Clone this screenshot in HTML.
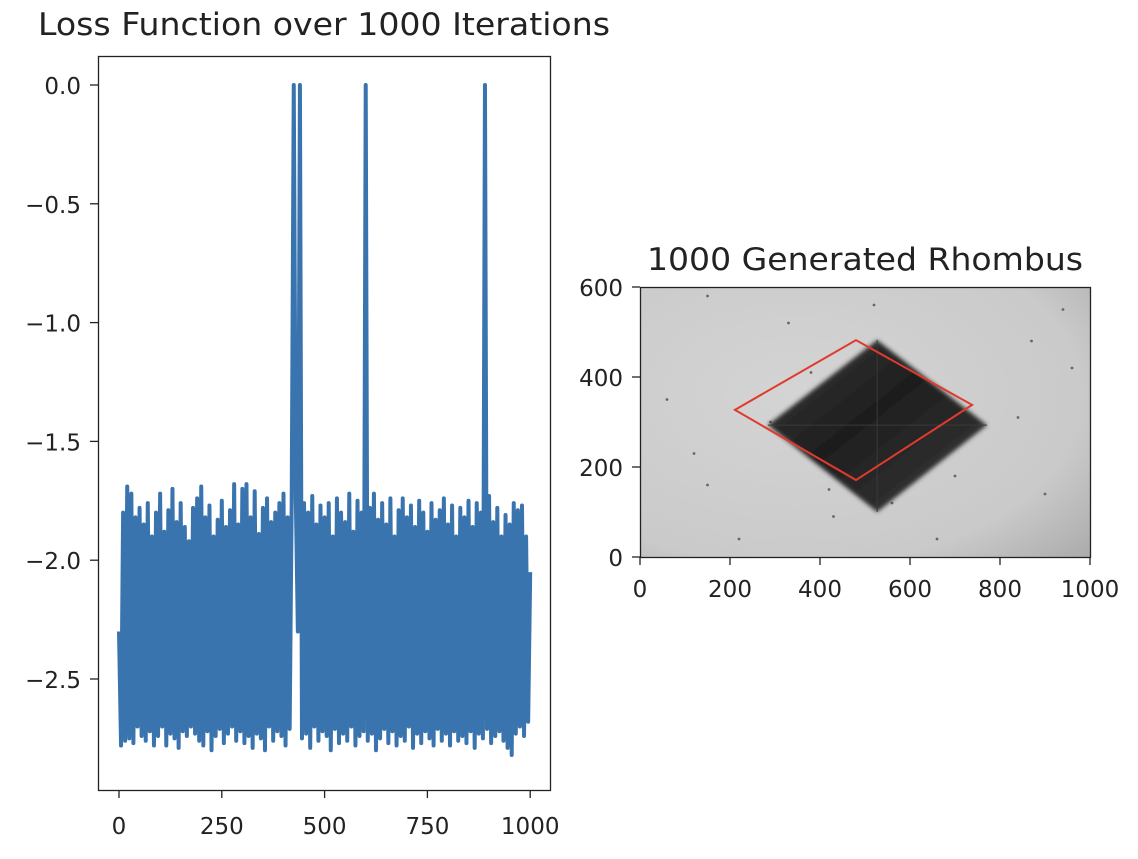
<!DOCTYPE html>
<html><head><meta charset="utf-8">
<style>
html,body{margin:0;padding:0;background:#fff;}
svg text{font-family:"DejaVu Sans","Liberation Sans",sans-serif;fill:#222;}
</style></head>
<body>
<svg id="fig" width="1138" height="854" viewBox="0 0 1138 854" xmlns="http://www.w3.org/2000/svg">
<defs>
<radialGradient id="bg" cx="0.35" cy="0.4" r="0.9">
<stop offset="0" stop-color="#d4d4d4"/><stop offset="0.7" stop-color="#cacaca"/><stop offset="1" stop-color="#a9a9a9"/>
</radialGradient>
<linearGradient id="dk" x1="0" y1="0" x2="1" y2="1">
<stop offset="0" stop-color="#3a3a3a"/><stop offset="0.45" stop-color="#1e1e1e"/><stop offset="1" stop-color="#3c3c3c"/>
</linearGradient>
<filter id="blur"><feGaussianBlur stdDeviation="2"/></filter>
</defs>
<g id="left"></g>
<g id="right"></g>
</svg>
<script>
const iterations = [];
for (let i = 0; i <= 200; i++) iterations.push(i * 5);
const lossValues = [
-2.3,-2.78,-1.8,-2.76,-1.69,-2.75,-1.72,-2.77,-1.82,-2.7,
-1.78,-2.74,-1.85,-2.76,-1.76,-2.72,-1.9,-2.78,-1.8,-2.74,
-1.72,-2.7,-1.88,-2.78,-1.79,-2.73,-1.7,-2.75,-1.84,-2.79,
-1.76,-2.72,-1.86,-2.74,-1.92,-2.7,-1.78,-2.73,-1.74,-2.76,
-1.69,-2.78,-1.82,-2.72,-1.77,-2.8,-1.9,-2.74,-1.83,-2.71,
-1.75,-2.77,-1.86,-2.73,-1.79,-2.7,-1.68,-2.76,-1.85,-2.72,
-1.7,-2.77,-1.68,-2.74,-1.82,-2.79,-1.71,-2.73,-1.89,-2.75,
-1.78,-2.8,-1.74,-2.7,-1.84,-2.76,-1.8,-2.72,-1.76,-2.74,
-1.72,-2.78,-1.82,-2.71,-1.75,0,-1.74,-2.3,0,-2.75,
-1.76,-2.73,-1.8,-2.79,-1.73,-2.7,-1.85,-2.76,-1.77,-2.72,
-1.82,-2.74,-1.76,-2.8,-1.9,-2.71,-1.74,-2.77,-1.8,-2.73,
-1.84,-2.76,-1.72,-2.7,-1.88,-2.78,-1.75,-2.74,-1.8,-2.72,
0,-2.76,-1.78,-2.73,-1.72,-2.8,-1.83,-2.75,-1.76,-2.71,
-1.85,-2.77,-1.74,-2.72,-1.9,-2.78,-1.79,-2.74,-1.74,-2.76,
-1.82,-2.7,-1.77,-2.79,-1.86,-2.73,-1.75,-2.77,-1.8,-2.72,
-1.88,-2.75,-1.76,-2.78,-1.83,-2.71,-1.79,-2.76,-1.74,-2.73,
-1.85,-2.78,-1.77,-2.72,-1.9,-2.76,-1.78,-2.74,-1.82,-2.77,
-1.75,-2.72,-1.86,-2.79,-1.76,-2.73,-1.8,-2.75,0,-2.71,
-1.73,-2.77,-1.84,-2.74,-1.78,-2.72,-1.9,-2.76,-1.81,-2.79,
-1.85,-2.82,-1.76,-2.73,-1.79,-2.7,-1.77,-2.74,-1.9,-2.68,
-2.05];
const lossXTicks = [0, 250, 500, 750, 1000];
const lossYTicks = [0.0, -0.5, -1.0, -1.5, -2.0, -2.5];
const lossYTickLabels = ["0.0", "\u22120.5", "\u22121.0", "\u22121.5", "\u22122.0", "\u22122.5"];
const imgXTicks = [0, 200, 400, 600, 800, 1000];
const imgYTicks = [0, 200, 400, 600];
const redRhombusX = [211, 480, 738, 480];
const redRhombusY = [327, 482, 338, 171];
const darkRhombusX = [284, 527, 771, 527];
const darkRhombusY = [293, 482, 293, 100];

const NS = "http://www.w3.org/2000/svg";
function mk(tag, attrs, parent) {
  const e = document.createElementNS(NS, tag);
  for (const k in attrs) e.setAttribute(k, attrs[k]);
  parent.appendChild(e);
  return e;
}
// Left chart
const L = document.getElementById('left');
const lx = v => 119 + v * 0.4112;
const ly = v => 85 - v * 237.6;
const lt = mk('text', {x: 324, y: 35, 'font-size': 31, 'text-anchor': 'middle', textLength: 572, lengthAdjust: 'spacingAndGlyphs'}, L);
lt.textContent = 'Loss Function over 1000 Iterations';


let d = '';
iterations.forEach((it, i) => { d += (i ? 'L' : 'M') + lx(it).toFixed(2) + ' ' + ly(lossValues[i]).toFixed(2); });
const line = mk('path', {d: d, fill: 'none', stroke: '#3a74ae', 'stroke-width': 4, 'stroke-linejoin': 'round'}, L);


const lf = mk('rect', {x: 98.5, y: 56.5, width: 452, height: 734, fill: 'none', stroke: '#222', 'stroke-width': 1.3}, L);


lossXTicks.forEach(v => {
  const x = lx(v);
  mk('line', {x1: x, x2: x, y1: 790, y2: 798, stroke: '#222', 'stroke-width': 1.3}, L);
  const t = mk('text', {x: x, y: 834, 'font-size': 23, 'text-anchor': 'middle'}, L);
  t.textContent = String(v);
  
  
});
lossYTicks.forEach((v, i) => {
  const y = ly(v);
  mk('line', {x1: 90, x2: 98, y1: y, y2: y, stroke: '#222', 'stroke-width': 1.3}, L);
  const t = mk('text', {x: 81, y: y + 9, 'font-size': 23, 'text-anchor': 'end'}, L);
  t.textContent = lossYTickLabels[i];
  
  
});
// Right chart
const R = document.getElementById('right');
const rx = v => 640 + v * 0.45;
const ry = v => 557 - v * 0.45;
const rt = mk('text', {x: 865, y: 270, 'font-size': 31, 'text-anchor': 'middle', textLength: 436, lengthAdjust: 'spacingAndGlyphs'}, R);
rt.textContent = '1000 Generated Rhombus';


const bg = mk('rect', {x: 640, y: 287, width: 450, height: 270, fill: 'url(#bg)'}, R);


const specks = [[150,580],[330,520],[520,560],[60,350],[120,230],[150,160],[290,300],[420,150],[430,90],[560,120],[620,260],[700,180],[840,310],[900,140],[870,480],[940,550],[380,410],[220,40],[660,40],[960,420]];
specks.forEach(p => mk('circle', {cx: rx(p[0]), cy: ry(p[1]), r: 1.4, fill: '#666'}, R));
const dark = mk('polygon', {points: darkRhombusX.map((x, i) => rx(x) + ',' + ry(darkRhombusY[i])).join(' '), fill: 'url(#dk)', filter: 'url(#blur)'}, R);


mk('line', {x1: rx(darkRhombusX[0]), y1: ry(darkRhombusY[0]), x2: rx(darkRhombusX[2]), y2: ry(darkRhombusY[2]), stroke: '#3a3a3a', 'stroke-width': 1}, R);
mk('line', {x1: rx(darkRhombusX[1]), y1: ry(darkRhombusY[1]), x2: rx(darkRhombusX[3]), y2: ry(darkRhombusY[3]), stroke: '#3a3a3a', 'stroke-width': 1}, R);
const red = mk('polygon', {points: redRhombusX.map((x, i) => rx(x) + ',' + ry(redRhombusY[i])).join(' '), fill: 'none', stroke: '#e03a2e', 'stroke-width': 2}, R);


const rf = mk('rect', {x: 640.5, y: 287.5, width: 450, height: 270, fill: 'none', stroke: '#222', 'stroke-width': 1.3}, R);


imgXTicks.forEach(v => {
  const x = rx(v);
  mk('line', {x1: x, x2: x, y1: 557, y2: 565, stroke: '#222', 'stroke-width': 1.3}, R);
  const t = mk('text', {x: x, y: 597, 'font-size': 23, 'text-anchor': 'middle'}, R);
  t.textContent = String(v);
  
  
});
imgYTicks.forEach(v => {
  const y = ry(v);
  mk('line', {x1: 632, x2: 640, y1: y, y2: y, stroke: '#222', 'stroke-width': 1.3}, R);
  const t = mk('text', {x: 623, y: y + 9, 'font-size': 23, 'text-anchor': 'end'}, R);
  t.textContent = String(v);
  
  
});
</script>
</body></html>
